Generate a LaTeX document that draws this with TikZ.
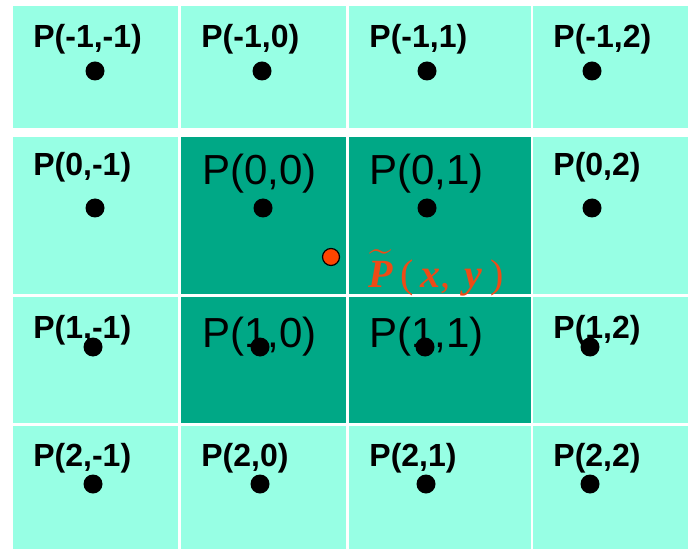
\documentclass[tikz,border=0pt]{standalone}
\usepackage{amsmath}
\usepackage{amssymb}
\usepackage{fontspec}
\setsansfont{Liberation Sans}
\newfontfamily\pointfont{Liberation Serif}
\usepackage{tikz}
\definecolor{GridLight}{HTML}{97FFE4}
\definecolor{GridDark}{HTML}{00A886}
\definecolor{PointRed}{HTML}{FF4500}
\definecolor{LabelRed}{HTML}{EE4B16}

\begin{document}
\begin{tikzpicture}[x=0.5pt,y=-0.5pt]
    \tikzstyle{smalllabel}=[anchor=base west,inner sep=0pt,
      font=\sffamily\bfseries\fontsize{16}{19}\selectfont]
    \tikzstyle{biglabel}=[anchor=base west,inner sep=0pt,
      font=\sffamily\fontsize{21}{25}\selectfont]
    \tikzstyle{gridpt}=[circle,fill=black,inner sep=0pt,minimum size=9.5pt]
    \useasboundingbox (0,0) rectangle (688,549);
    % cells
    \fill[GridLight] (13,6) rectangle (178,128);
    \fill[GridLight] (181,6) rectangle (346,128);
    \fill[GridLight] (349,6) rectangle (531,128);
    \fill[GridLight] (533,6) rectangle (688,128);
    \fill[GridLight] (13,137) rectangle (178,294);
    \fill[GridDark] (181,137) rectangle (346,294);
    \fill[GridDark] (349,137) rectangle (531,294);
    \fill[GridLight] (533,137) rectangle (688,294);
    \fill[GridLight] (13,297) rectangle (178,423);
    \fill[GridDark] (181,297) rectangle (346,423);
    \fill[GridDark] (349,297) rectangle (531,423);
    \fill[GridLight] (533,297) rectangle (688,423);
    \fill[GridLight] (13,426) rectangle (178,549);
    \fill[GridLight] (181,426) rectangle (346,549);
    \fill[GridLight] (349,426) rectangle (531,549);
    \fill[GridLight] (533,426) rectangle (688,549);
    % labels
    \node[smalllabel] (t11) at (33,48) {P(-1,-1)};
    \node[smalllabel] (t12) at (201,48) {P(-1,0)};
    \node[smalllabel] (t13) at (369,48) {P(-1,1)};
    \node[smalllabel] (t14) at (553,48) {P(-1,2)};
    \node[smalllabel] (t21) at (33,176) {P(0,-1)};
    \node[biglabel] (t22) at (202,185) {P(0,0)};
    \node[biglabel] (t23) at (369,185) {P(0,1)};
    \node[smalllabel] (t24) at (553,176) {P(0,2)};
    \node[smalllabel] (t31) at (33,338) {P(1,-1)};
    \node[biglabel] (t32) at (202,347) {P(1,0)};
    \node[biglabel] (t33) at (369,347) {P(1,1)};
    \node[smalllabel] (t34) at (553,338) {P(1,2)};
    \node[smalllabel] (t41) at (33,466) {P(2,-1)};
    \node[smalllabel] (t42) at (201,466) {P(2,0)};
    \node[smalllabel] (t43) at (369,466) {P(2,1)};
    \node[smalllabel] (t44) at (553,466) {P(2,2)};
    % sample points
    \node[gridpt] (p11) at (95,71) {};
    \node[gridpt] (p12) at (262,71) {};
    \node[gridpt] (p13) at (427,71) {};
    \node[gridpt] (p14) at (592,71) {};
    \node[gridpt] (p21) at (95,208) {};
    \node[gridpt] (p22) at (263,208) {};
    \node[gridpt] (p23) at (427,208) {};
    \node[gridpt] (p24) at (592,208) {};
    \node[gridpt] (p31) at (93,347) {};
    \node[gridpt] (p32) at (260,347) {};
    \node[gridpt] (p33) at (425,347) {};
    \node[gridpt] (p34) at (590,347) {};
    \node[gridpt] (p41) at (93,484) {};
    \node[gridpt] (p42) at (260,484) {};
    \node[gridpt] (p43) at (426,484) {};
    \node[gridpt] (p44) at (590,484) {};
    % interpolated point
    \node[circle,draw=black,line width=0.6pt,fill=PointRed,inner sep=0pt,
      minimum size=8.5pt] (pxy) at (331,257) {};
    \node[anchor=base west,inner sep=0pt,text=LabelRed,
      font=\pointfont\fontsize{20}{24}\selectfont] (pxylabel) at (368,287)
      {$\widetilde{\hbox{\bfseries\itshape P}}$\hspace{4pt}(\hspace{3pt}\textbf{\textit{x}},\hspace{7pt}\textbf{\textit{y}}\hspace{4pt})};
  \end{tikzpicture}
\end{document}
